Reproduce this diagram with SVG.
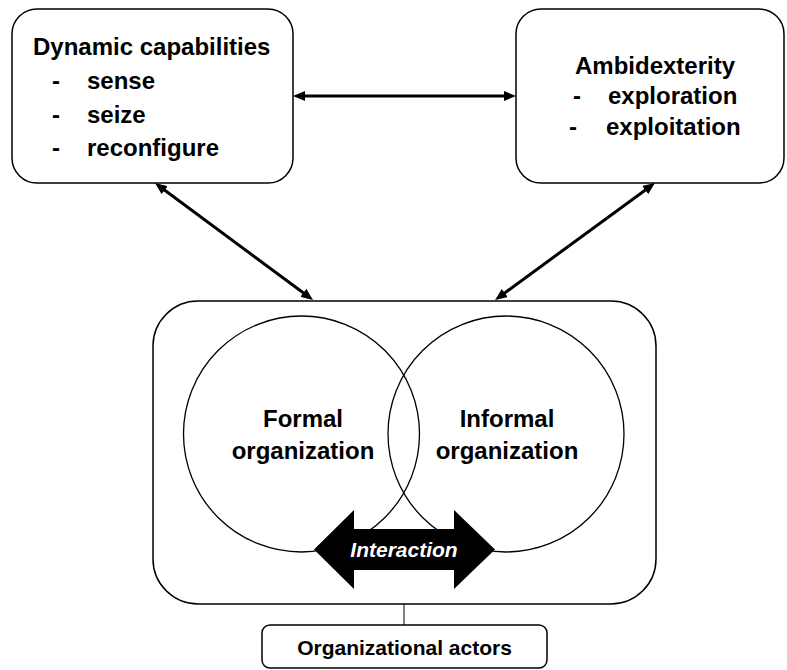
<svg xmlns="http://www.w3.org/2000/svg" width="787" height="670" viewBox="0 0 787 670">
  <style>
    .box { fill: #fff; stroke: #000; stroke-width: 1.5; }
    .circ { fill: none; stroke: #000; stroke-width: 1.3; }
    .lbl { font-family: "Liberation Sans", Arial, sans-serif; font-weight: bold; font-size: 24px; fill: #000; }
    .mid { text-anchor: middle; }
    .link { stroke: #000; stroke-width: 3; fill: none; marker-start: url(#head); marker-end: url(#head); }
  </style>
  <defs>
    <marker id="head" viewBox="0 0 12 10" markerWidth="12" markerHeight="10" refX="4" refY="5" orient="auto-start-reverse" markerUnits="userSpaceOnUse">
      <path d="M0,0 L12,5 L0,10 Z" fill="#000"/>
    </marker>
  </defs>

  <rect width="787" height="670" fill="#fff"/>

  <!-- Dynamic capabilities -->
  <g id="dynamic-capabilities">
    <rect class="box" x="12" y="9" width="281" height="174" rx="25"/>
    <text class="lbl" x="33" y="55">Dynamic capabilities</text>
    <text class="lbl" x="52" y="89">-</text>
    <text class="lbl" x="87" y="89">sense</text>
    <text class="lbl" x="52" y="123">-</text>
    <text class="lbl" x="87" y="123">seize</text>
    <text class="lbl" x="52" y="156">-</text>
    <text class="lbl" x="87" y="156">reconfigure</text>
  </g>

  <!-- Ambidexterity -->
  <g id="ambidexterity">
    <rect class="box" x="516" y="9" width="268" height="174" rx="25"/>
    <text class="lbl mid" x="655" y="74">Ambidexterity</text>
    <text class="lbl" x="573" y="104">-</text>
    <text class="lbl" x="608" y="104">exploration</text>
    <text class="lbl" x="569" y="135">-</text>
    <text class="lbl" x="606" y="135">exploitation</text>
  </g>

  <!-- Organization container with the two overlapping circles -->
  <g id="organization">
    <rect class="box" x="153" y="301" width="503" height="303" rx="45"/>
  </g>
  <g id="formal-organization">
    <circle class="circ" cx="301.5" cy="434" r="118"/>
    <text class="lbl mid" x="303" y="427">Formal</text>
    <text class="lbl mid" x="303" y="459">organization</text>
  </g>
  <g id="informal-organization">
    <circle class="circ" cx="506" cy="434" r="118"/>
    <text class="lbl mid" x="507" y="427">Informal</text>
    <text class="lbl mid" x="507" y="459">organization</text>
  </g>

  <!-- Interaction block arrow -->
  <g id="interaction">
    <polygon points="314,549.5 354,510 354,529 454,529 454,510 495,549.5 454,589 454,570 354,570 354,589" fill="#000"/>
    <text x="404" y="557" text-anchor="middle" font-family="Liberation Sans, Arial, sans-serif" font-weight="bold" font-style="italic" font-size="21" fill="#fff">Interaction</text>
  </g>

  <!-- Organizational actors -->
  <g id="organizational-actors">
    <rect class="box" x="262" y="625" width="285" height="43" rx="8"/>
    <text class="lbl mid" x="404.5" y="655" font-size="21" style="font-size:21px">Organizational actors</text>
  </g>

  <!-- Connectors -->
  <g id="connectors">
    <line class="link" x1="301" y1="96" x2="508" y2="96"/>
    <line class="link" x1="161.4" y1="187.8" x2="306.6" y2="295.2"/>
    <line class="link" x1="648.5" y1="187.7" x2="501.5" y2="295.3"/>
    <line x1="404" y1="604" x2="404" y2="625" stroke="#000" stroke-width="1"/>
  </g>
</svg>
